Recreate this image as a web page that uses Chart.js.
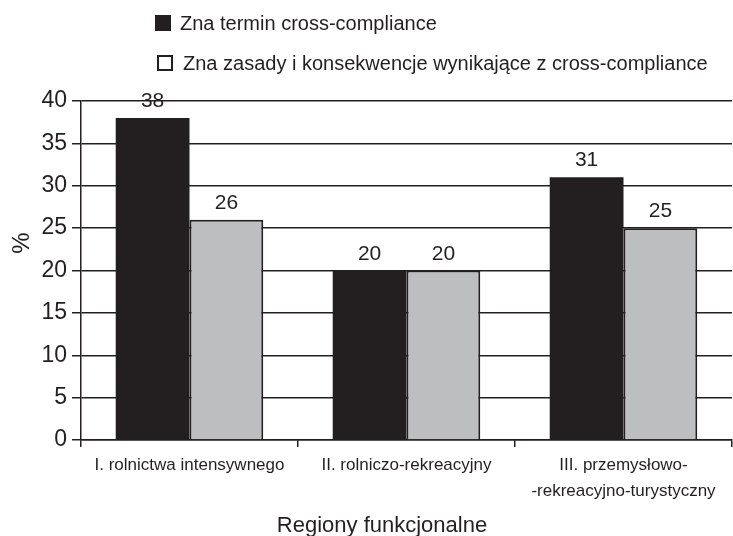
<!DOCTYPE html>
<html>
<head>
<meta charset="utf-8">
<script src="https://cdn.jsdelivr.net/npm/chart.js@4"></script>
<style>
  body { margin: 0; background: #fff; }
  #wrap { width: 733px; height: 536px; }
</style>
</head>
<body>
<div id="wrap"><canvas id="chart" width="733" height="536"></canvas></div>
<script>
const regions = [
  'I. rolnictwa intensywnego',
  'II. rolniczo-rekreacyjny',
  ['III. przemysłowo-', '-rekreacyjno-turystyczny']
];
const seriesNames = [
  'Zna termin cross-compliance',
  'Zna zasady i konsekwencje wynikające z cross-compliance'
];
const knowsTerm = [38, 20, 31];
const knowsRules = [26, 20, 25];
const yTicks = [0, 5, 10, 15, 20, 25, 30, 35, 40];
const xTitle = 'Regiony funkcjonalne';
const yTitle = '%';

const ink = '#231f20';
const fontName = '"Liberation Sans", Arial, sans-serif';

// value labels above bars
const valueLabels = {
  id: 'valueLabels',
  afterDatasetsDraw(chart) {
    const ctx = chart.ctx;
    ctx.save();
    ctx.font = '21px ' + fontName;
    ctx.fillStyle = ink;
    ctx.textAlign = 'center';
    ctx.textBaseline = 'alphabetic';
    chart.data.datasets.forEach((ds, i) => {
      chart.getDatasetMeta(i).data.forEach((bar, j) => {
        ctx.fillText(ds.data[j], bar.x, bar.y - 11);
      });
    });
    ctx.restore();
  }
};

// legend stacked in two lines + axis titles
const extras = {
  id: 'extras',
  afterDraw(chart) {
    const ctx = chart.ctx;
    ctx.save();
    ctx.font = '20px ' + fontName;
    ctx.textBaseline = 'middle';
    ctx.textAlign = 'left';
    chart.data.datasets.forEach((ds, i) => {
      const y = 23 + i * 40;
      if (i === 0) {
        ctx.fillStyle = ink;
        ctx.fillRect(155, y - 8, 16, 16);
      } else {
        ctx.strokeStyle = ink;
        ctx.lineWidth = 2;
        ctx.strokeRect(158, y - 7, 14, 14);
      }
      ctx.fillStyle = ink;
      ctx.fillText(ds.label, i === 0 ? 180 : 183, y + 1);
    });

    // axis titles
    ctx.textAlign = 'center';
    ctx.textBaseline = 'alphabetic';
    ctx.font = '22px ' + fontName;
    ctx.fillText(xTitle, 382, 532);
    ctx.translate(22, 243);
    ctx.rotate(-Math.PI / 2);
    ctx.textBaseline = 'middle';
    ctx.font = '24px ' + fontName;
    ctx.fillText(yTitle, 0, 0);
    ctx.restore();
  }
};

new Chart(document.getElementById('chart'), {
  type: 'bar',
  data: {
    labels: regions,
    datasets: [
      {
        label: seriesNames[0],
        data: knowsTerm,
        backgroundColor: ink,
        borderColor: ink,
        borderWidth: 0
      },
      {
        label: seriesNames[1],
        data: knowsRules,
        backgroundColor: '#bcbec0',
        borderColor: ink,
        borderWidth: 2
      }
    ]
  },
  options: {
    responsive: false,
    animation: false,
    categoryPercentage: 0.68,
    barPercentage: 1,
    layout: { padding: { top: 101, right: 1, left: 0, bottom: 0 } },
    plugins: {
      legend: { display: false },
      tooltip: { enabled: false }
    },
    scales: {
      x: {
        afterFit(scale) { scale.height = 96; },
        border: { color: ink, width: 1.5 },
        grid: {
          offset: true,
          drawOnChartArea: false,
          drawTicks: true,
          tickLength: 7,
          color: ink,
          lineWidth: 1.5
        },
        ticks: {
          color: ink,
          font: { family: fontName, size: 17, lineHeight: 1.5 },
          padding: 6,
          maxRotation: 0,
          autoSkip: false
        }
      },
      y: {
        min: 0,
        max: 40,
        afterFit(scale) { scale.width = 81; },
        afterBuildTicks(scale) { scale.ticks = yTicks.map(v => ({ value: v })); },
        border: { color: ink, width: 1.5 },
        grid: {
          color: ink,
          lineWidth: 1.5,
          drawTicks: true,
          tickLength: 9
        },
        ticks: {
          color: ink,
          font: { family: fontName, size: 23 },
          padding: 5
        }
      }
    }
  },
  plugins: [valueLabels, extras]
});
</script>
</body>
</html>
